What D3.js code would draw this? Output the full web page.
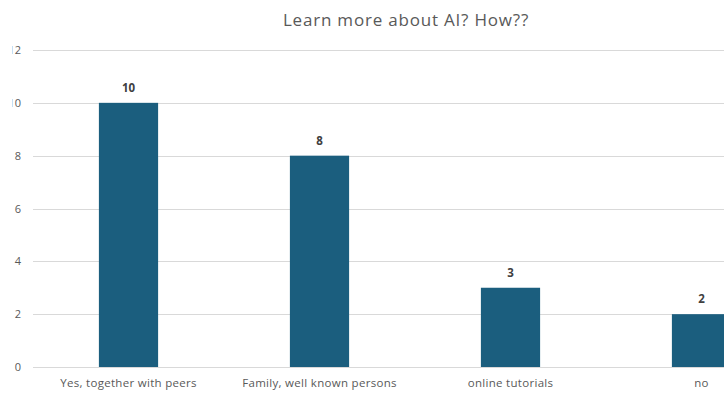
<!DOCTYPE html>
<html>
<head>
<meta charset="utf-8">
<script src="https://cdn.jsdelivr.net/npm/d3@7"></script>
<style>
  html, body { margin: 0; padding: 0; background: #ffffff; }
  svg { display: block; }
  text { font-family: "Open Sans", "Noto Sans", sans-serif; }
</style>
</head>
<body>
<svg id="chart" width="724" height="394"></svg>
<script>
// Survey answers and counts
const categories = ["Yes, together with peers", "Family, well known persons", "online tutorials", "no"];
const counts = [10, 8, 3, 2];
const yTicks = [0, 2, 4, 6, 8, 10, 12];
const title = "Learn more about AI? How??";

const svg = d3.select("#chart");
const W = 724, H = 394;

// Plot area extends past the right edge, so the last column is cut off
const plot = { left: 33, right: 797, top: 50, bottom: 367 };

const x = d3.scaleBand()
  .domain(categories)
  .range([plot.left, plot.right])
  .paddingInner(0.69)
  .paddingOuter(0.345);

const y = d3.scaleLinear()
  .domain([0, 12])
  .range([plot.bottom, plot.top]);

// Left edge clip for the value-axis labels
svg.append("defs").append("clipPath").attr("id", "leftClip")
  .append("rect").attr("x", 12.5).attr("y", 0).attr("width", W).attr("height", H);

// Title
svg.append("text")
  .attr("x", 406)
  .attr("y", 26)
  .attr("text-anchor", "middle")
  .attr("fill", "#595959")
  .attr("font-size", 17)
  .attr("letter-spacing", 0.8)
  .text(title);

// Horizontal gridlines
svg.append("g")
  .selectAll("line")
  .data(yTicks)
  .join("line")
  .attr("x1", plot.left)
  .attr("x2", W)
  .attr("y1", d => Math.round(y(d)) + 0.5)
  .attr("y2", d => Math.round(y(d)) + 0.5)
  .attr("stroke", "#d9d9d9")
  .attr("stroke-width", 1);

// Value axis labels
const yAxis = d3.axisLeft(y).tickValues(yTicks).tickSize(0).tickPadding(0);
const clipG = svg.append("g").attr("clip-path", "url(#leftClip)");
const yg = clipG.append("g")
  .attr("transform", "translate(21,0)")
  .call(yAxis);
yg.select(".domain").remove();
yg.selectAll("text")
  .attr("fill", "#595959")
  .attr("font-size", 11)
  .attr("font-family", "\"Open Sans\", sans-serif");

// Bars
svg.append("g")
  .selectAll("rect")
  .data(categories)
  .join("rect")
  .attr("x", d => x(d))
  .attr("y", (d, i) => y(counts[i]))
  .attr("width", x.bandwidth())
  .attr("height", (d, i) => y(0) - y(counts[i]))
  .attr("fill", "#1b5e7e");

// Value labels above bars
svg.append("g")
  .selectAll("text")
  .data(categories)
  .join("text")
  .attr("x", d => x(d) + x.bandwidth() / 2)
  .attr("y", (d, i) => y(counts[i]) - 11)
  .attr("text-anchor", "middle")
  .attr("font-size", 11.5)
  .attr("font-weight", "bold")
  .attr("fill", "#404040")
  .text((d, i) => counts[i]);

// Category axis labels
const xAxis = d3.axisBottom(x).tickSize(0).tickPadding(0);
const xg = svg.append("g")
  .attr("transform", `translate(0,${plot.bottom + 20})`)
  .call(xAxis);
xg.select(".domain").remove();
xg.selectAll("text")
  .attr("dy", 0)
  .attr("fill", "#595959")
  .attr("font-size", 11.5)
  .attr("letter-spacing", 0.3)
  .attr("font-family", "\"Open Sans\", sans-serif");
</script>
</body>
</html>
